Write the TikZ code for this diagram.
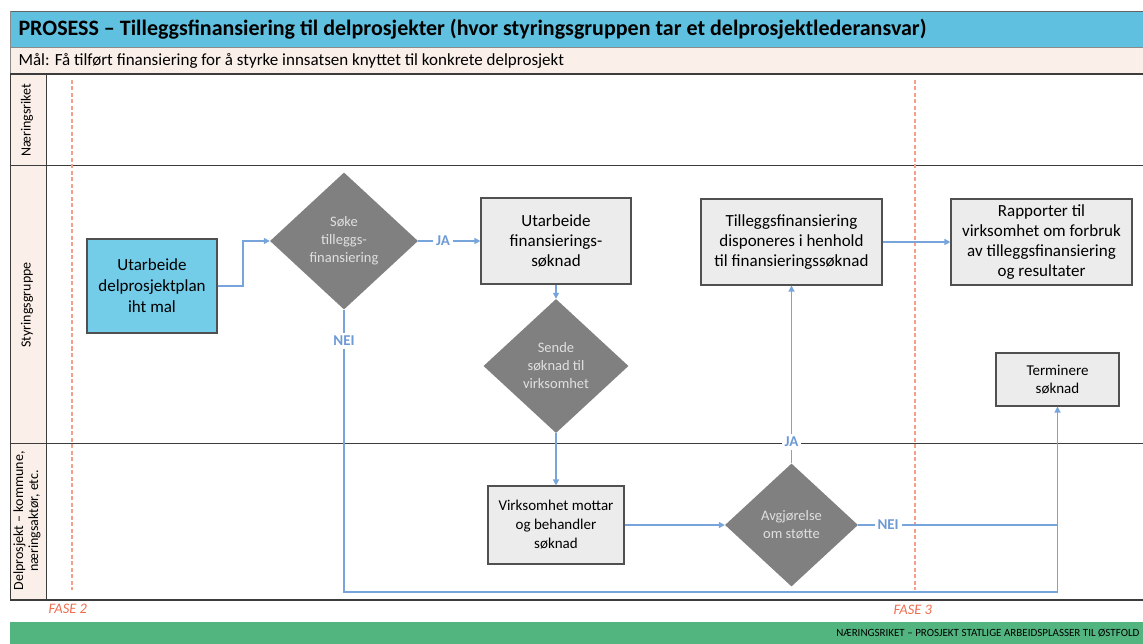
\documentclass[tikz,border=0pt]{standalone}
\usepackage{fontspec}
\setmainfont{Carlito}
\usetikzlibrary{shapes.geometric,arrows.meta,calc}
\definecolor{titleblue}{RGB}{96,192,224}
\definecolor{beige}{RGB}{251,240,233}
\definecolor{boxblue}{RGB}{115,204,232}
\definecolor{boxgray}{RGB}{236,236,236}
\definecolor{diagray}{RGB}{128,128,128}
\definecolor{connblue}{RGB}{120,164,220}
\definecolor{lblblue}{RGB}{110,154,212}
\definecolor{dashred}{RGB}{246,160,140}
\definecolor{fasered}{RGB}{240,110,80}
\definecolor{footgreen}{RGB}{82,181,128}
\definecolor{frame}{RGB}{60,60,60}
\tikzset{
  gbox/.style={draw=frame!90, fill=boxgray, line width=1.1pt, align=center, inner sep=2pt},
  dia/.style={diamond, fill=diagray, text=white!88!black, align=center, inner sep=0pt, font=\fontsize{14.5}{18}\selectfont},
  conn/.style={draw=connblue, line width=1.3pt, -{Triangle[length=6pt,width=6pt]}},
  plain/.style={draw=connblue, line width=1.3pt},
  lbl/.style={fill=white, text=lblblue, font=\bfseries\fontsize{15}{17}\selectfont, inner sep=3pt},
  lanetxt/.style={rotate=90, align=center, font=\fontsize{14}{15}\selectfont},
  phase/.style={draw=dashred, line width=1.3pt, dash pattern=on 4pt off 2.5pt},
  fasetxt/.style={anchor=west, text=fasered, font=\itshape\fontsize{14.5}{16}\selectfont}
}
\begin{document}
\begin{tikzpicture}[x=1pt,y=-1pt]
\useasboundingbox (0,0) rectangle (1143,644);
% header
\fill[titleblue] (10,11) rectangle (1145,47);
\fill[beige] (10,47) rectangle (1145,74);
\draw[frame!80, line width=0.8pt] (10,11) -- (1145,11);
\draw[frame!60, line width=0.6pt] (10,47) -- (1145,47);
\draw[frame!60, line width=0.8pt] (10,11) -- (10,74);
\node[anchor=west, font=\bfseries\fontsize{22}{26}\selectfont] (title) at (15,29) {PROSESS – Tilleggsfinansiering til delprosjekter (hvor styringsgruppen tar et delprosjektlederansvar)};
\node[anchor=west, font=\fontsize{17}{20}\selectfont] (goal) at (15,61) {Mål: Få tilført finansiering for å styrke innsatsen knyttet til konkrete delprosjekt};
% lanes
\fill[beige] (10,74) rectangle (46,600);
\draw[frame, line width=1.2pt] (10,74) -- (1145,74);
\draw[frame, line width=1.2pt] (10,600) -- (1145,600);
\draw[frame, line width=1.0pt] (10,74) -- (10,600);
\draw[frame, line width=1.0pt] (46,74) -- (46,600);
\draw[frame, line width=1.0pt] (10,166) -- (1145,166);
\draw[frame, line width=1.0pt] (10,443) -- (1145,443);
\node[lanetxt] (l1) at (27,120) {Næringsriket};
\node[lanetxt] (l2) at (27,305) {Styringsgruppe};
\node[lanetxt] (l3) at (27,521) {Delprosjekt – kommune,\\næringsaktør, etc.};
% phase lines
\draw[phase] (72,80) -- (72,590);
\draw[phase] (915,80) -- (915,590);
\node[fasetxt] (f2) at (45,609) {FASE 2};
\node[fasetxt] (f3) at (890,610) {FASE 3};
% footer
\fill[footgreen] (10,622) rectangle (1145,644);
\node[anchor=east, font=\fontsize{11}{12}\selectfont] (foot) at (1143,633) {NÆRINGSRIKET – PROSJEKT STATLIGE ARBEIDSPLASSER TIL ØSTFOLD};
% nodes
\node[gbox, fill=boxblue, minimum width=130pt, minimum height=94pt, font=\fontsize{17}{21}\selectfont] (ut) at (152,286) {Utarbeide\\delprosjektplan\\iht mal};
\node[dia, minimum width=148pt, minimum height=137pt] (soke) at (344,241) {Søke\\tilleggs-\\finansiering};
\node[gbox, minimum width=150pt, minimum height=86pt, font=\fontsize{17}{20}\selectfont] (uf) at (556,241) {Utarbeide\\finansierings-\\søknad};
\node[dia, minimum width=145pt, minimum height=134pt] (sende) at (556,366) {Sende\\søknad til\\virksomhet};
\node[gbox, minimum width=181pt, minimum height=86pt, font=\fontsize{17}{20}\selectfont] (till) at (791.5,242) {Tilleggsfinansiering\\disponeres i henhold\\til finansieringssøknad};
\node[gbox, minimum width=181pt, minimum height=86pt, font=\fontsize{17}{20}\selectfont] (rap) at (1041.5,242) {Rapporter til\\virksomhet om forbruk\\av tilleggsfinansiering\\og resultater};
\node[gbox, minimum width=123pt, minimum height=53pt, font=\fontsize{15}{18}\selectfont] (term) at (1057.5,379.5) {Terminere\\søknad};
\node[gbox, minimum width=136pt, minimum height=78pt, font=\fontsize{15}{19}\selectfont] (vm) at (556,525) {Virksomhet mottar\\og behandler\\søknad};
\node[dia, minimum width=133pt, minimum height=123pt] (avg) at (791.5,525) {Avgjørelse\\om støtte};
\coordinate (bend1) at (243,286);
\coordinate (loop) at (344,592);
\coordinate (join) at (1057.5,525);
% connectors
\draw[conn] (ut.east) -- (bend1) |- (soke.west);
\draw[conn] (soke.east) -- node[lbl, pos=0.4]{JA} (uf.west);
\draw[conn] (soke.south) -- node[lbl, pos=0.11]{NEI} (loop) -| (term.south);
\draw[conn] (uf.south) -- (sende.north);
\draw[conn] (sende.south) -- (vm.north);
\draw[conn] (vm.east) -- (avg.west);
\draw[conn] (avg.north) -- node[lbl, pos=0.12]{JA} (till.south);
\draw[plain] (avg.east) -- node[lbl, pos=0.15]{NEI} (join);
\draw[conn] (till.east) -- (rap.west);
\end{tikzpicture}
\end{document}
